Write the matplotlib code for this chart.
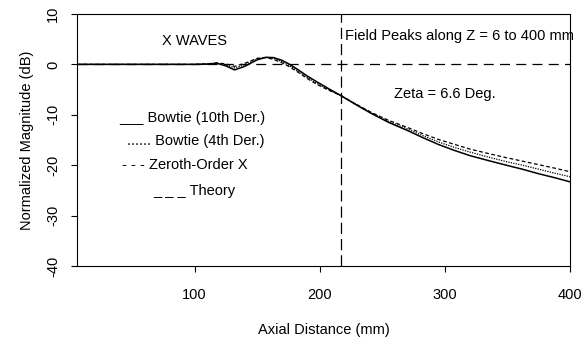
import matplotlib.pyplot as plt

plt.rcParams['font.family'] = ['Liberation Sans', 'DejaVu Sans']
plt.rcParams['axes.unicode_minus'] = False

# axial distance (mm) where values were read
z = [6, 40, 80, 100, 110, 118, 125, 132, 140, 150, 157, 163, 170, 176, 183, 190, 198, 207, 217,
     229, 241, 255, 270, 283, 295, 308, 320, 335, 349, 362, 375, 388, 400]

# normalized magnitude (dB)
bowtie_10th = [0, 0, 0, 0, 0.05, 0.2, -0.3, -1.1, -0.4, 0.9, 1.4, 1.35, 0.8, 0.0, -1.1, -2.3, -3.5, -4.8, -6.2,
               -8.0, -9.7, -11.5, -13.1, -14.6, -15.9, -17.1, -18.1, -19.1, -20.0, -20.8, -21.7, -22.5, -23.3]
bowtie_4th = [0, 0, 0, 0, 0.1, 0.25, -0.1, -0.7, -0.1, 1.1, 1.4, 1.2, 0.5, -0.3, -1.4, -2.6, -3.8, -5.0, -6.2,
              -7.9, -9.6, -11.3, -12.8, -14.2, -15.4, -16.5, -17.4, -18.4, -19.3, -20.0, -20.8, -21.6, -22.3]
zeroth_x = [0, 0, 0, 0, 0.1, 0.3, 0.1, -0.4, 0.2, 1.2, 1.35, 1.0, 0.3, -0.5, -1.6, -2.8, -4.0, -5.1, -6.2,
            -7.9, -9.5, -11.1, -12.5, -13.8, -14.9, -15.9, -16.8, -17.7, -18.5, -19.2, -19.9, -20.6, -21.3]
theory_z = [6, 400]
theory = [0, 0]

zeta_z = 217

fig = plt.figure(figsize=(5.87, 3.41), dpi=100)
ax = fig.add_axes([0.131, 0.22, 0.84, 0.739])

ax.plot(z, bowtie_10th, color='black', lw=1.1, ls='-')
ax.plot(z, bowtie_4th, color='black', lw=0.9, ls=(0, (1, 1)))
ax.plot(z, zeroth_x, color='black', lw=0.9, ls=(0, (3, 2)))
ax.plot(theory_z, theory, color='black', lw=0.9, ls=(0, (8, 5)))
ax.axvline(zeta_z, color='black', lw=0.9, ls=(0, (9, 4)))

ax.set_xlim(6, 400)
ax.set_ylim(-40, 10)
ax.set_xticks([100, 200, 300, 400])
ax.set_yticks([10, 0, -10, -20, -30, -40])
ax.tick_params(axis='x', labelsize=10.5, pad=12, length=4)
ax.tick_params(axis='y', labelsize=10.5, pad=8, length=4)
for lab in ax.get_yticklabels():
    lab.set_rotation(90)
    lab.set_va('center')

ax.set_xlabel('Axial Distance (mm)', fontsize=10.5, labelpad=15)
ax.set_ylabel('Normalized Magnitude (dB)', fontsize=10.5, labelpad=9)

ax.text(100, 4.6, 'X WAVES', fontsize=10.5, ha='center', va='center')
ax.text(220, 5.6, 'Field Peaks along Z = 6 to 400 mm', fontsize=10.5, ha='left', va='center')
ax.text(300, -5.8, 'Zeta = 6.6 Deg.', fontsize=10.5, ha='center', va='center')

ax.text(40, -10.7, '___ Bowtie (10th Der.)', fontsize=10.5, ha='left', va='center')
ax.text(46, -15.3, '...... Bowtie (4th Der.)', fontsize=10.5, ha='left', va='center')
ax.text(42, -19.9, '- - - Zeroth-Order X', fontsize=10.5, ha='left', va='center')
ax.text(67, -25.2, '_ _ _ Theory', fontsize=10.5, ha='left', va='center')

fig.savefig('out.png', dpi=100)
